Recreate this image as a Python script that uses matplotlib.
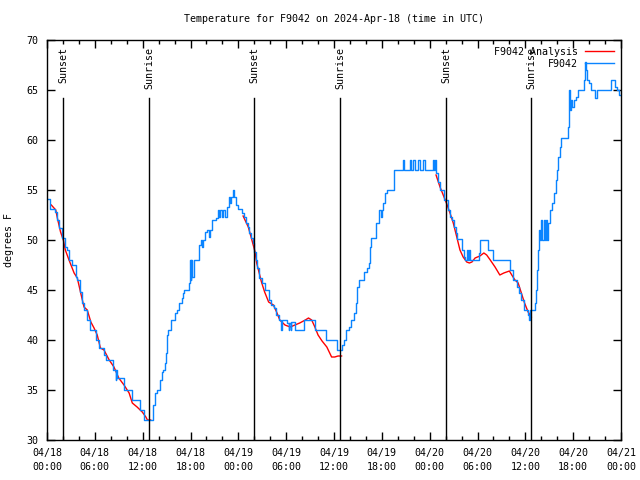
import datetime as dt
import numpy as np
import matplotlib
matplotlib.use('Agg')
import matplotlib.pyplot as plt
import matplotlib.dates as mdates

plt.rcParams['font.family'] = ['DejaVu Sans Mono']
plt.rcParams['font.size'] = 7.2

start = dt.datetime(2024, 4, 18)

# station obs, hours since 04/18 00:00 UTC (value holds until next entry)
obs_hours = [0.0, 0.4, 0.95, 1.2, 1.5, 1.85, 2.2, 2.55, 2.75, 3.15, 3.6, 3.8, 4.15, 4.45,
             4.65, 5.0, 5.35, 6.2, 6.5, 7.2, 7.35, 8.3, 8.6, 8.7, 8.8, 9.65, 10.6, 11.7,
             12.2, 13.25, 13.55, 13.75, 14.15, 14.4, 14.6, 14.8, 14.95, 15.0, 15.2, 15.6,
             16.05, 16.3, 16.6, 16.9, 17.1, 17.2, 17.75, 17.9, 18.0, 18.1, 18.2, 18.4,
             19.05, 19.3, 19.5, 19.6, 19.8, 20.1, 20.3, 20.45, 20.65, 21.2, 21.45, 21.6,
             21.75, 21.9, 22.05, 22.3, 22.55, 22.8, 23.0, 23.1, 23.3, 23.5, 23.65, 23.9,
             24.5, 24.75, 24.9, 25.15, 25.35, 25.6, 25.8, 26.0, 26.2, 26.35, 26.6, 26.95,
             27.3, 27.9, 28.15, 28.5, 28.7, 29.05, 29.4, 29.5, 30.1, 30.3, 30.35, 30.55,
             30.6, 31.05, 32.25, 33.65, 34.95, 36.35, 36.95, 37.25, 37.55, 37.9, 38.15,
             38.45, 38.75, 38.9, 39.1, 39.8, 40.1, 40.35, 40.55, 40.7, 41.3, 41.6, 41.9,
             42.0, 42.15, 42.45, 42.65, 43.55, 44.6, 44.8, 45.5, 45.7, 45.9, 46.1, 46.55,
             46.75, 47.2, 47.45, 48.4, 48.55, 48.7, 48.85, 49.1, 49.25, 49.8, 50.25, 50.6,
             50.85, 51.0, 51.25, 51.45, 52.05, 52.25, 52.45, 52.65, 52.75, 52.9, 53.0,
             54.15, 54.3, 55.35, 55.95, 58.1, 58.45, 59.0, 59.2, 59.5, 59.85, 60.3, 60.45,
             60.6, 61.15, 61.35, 61.45, 61.55, 61.7, 61.85, 62.0, 62.15, 62.3, 62.45, 62.6,
             62.75, 62.9, 63.15, 63.35, 63.55, 63.8, 63.95, 64.15, 64.3, 64.45, 65.4, 65.5,
             65.6, 65.7, 65.85, 66.05, 66.35, 66.65, 67.3, 67.45, 67.55, 67.75, 68.0, 68.25,
             68.75, 68.95, 70.8, 71.3, 71.55, 71.75, 72.0]
obs_temps = [54.1, 53.1, 52.8, 52.0, 51.2, 50.2, 49.3, 49.0, 48.0, 47.5, 46.3, 46.0, 44.8, 43.7,
             43.0, 42.0, 41.0, 40.0, 39.2, 38.5, 38.0, 37.0, 36.0, 37.0, 36.2, 35.0, 34.0, 33.0,
             32.0, 33.5, 34.7, 35.0, 36.0, 36.8, 37.0, 37.7, 38.7, 40.5, 41.0, 42.0,
             42.7, 43.0, 43.7, 44.2, 44.7, 45.0, 45.7, 48.0, 46.0, 48.0, 46.3, 48.0,
             49.5, 50.0, 49.3, 50.0, 50.8, 51.0, 50.3, 51.0, 52.0, 52.2, 53.0, 52.3,
             53.0, 52.3, 53.0, 52.3, 53.3, 54.3, 53.7, 54.3, 55.0, 54.3, 53.5, 53.1,
             52.7, 52.3, 51.7, 51.3, 50.7, 50.2, 49.7, 48.8, 48.0, 47.2, 46.2, 45.7,
             45.0, 44.0, 43.5, 43.2, 42.5, 42.0, 41.0, 42.0, 41.7, 41.0, 41.7, 41.0,
             41.8, 41.0, 42.0, 41.0, 40.0, 39.0, 39.5, 40.0, 41.0, 41.3, 42.0,
             42.7, 43.7, 45.3, 46.0, 46.8, 47.2, 47.7, 49.3, 50.2, 51.7, 53.0, 52.3,
             53.0, 53.7, 54.7, 55.0, 57.0, 58.0, 57.0, 58.0, 57.0, 58.0, 57.0, 58.0,
             57.0, 58.0, 57.0, 58.0, 57.0, 58.0, 56.7, 55.8, 55.0, 54.0, 53.0, 52.3,
             52.0, 51.3, 50.7, 50.1, 49.0, 48.3, 48.0, 49.0, 48.0, 49.0, 48.0,
             48.7, 50.0, 49.0, 48.0, 47.0, 46.0, 45.3, 44.7, 44.0, 43.0, 42.5, 42.0,
             43.0, 43.7, 45.0, 47.0, 49.0, 51.0, 50.0, 52.0, 50.0, 52.0, 50.0, 52.0,
             50.0, 51.7, 53.0, 53.7, 54.7, 56.0, 57.0, 58.3, 59.3, 60.2, 61.3, 65.0,
             63.0, 64.0, 63.3, 64.0, 64.3, 65.0, 66.0, 67.8, 67.0, 66.0, 65.7, 65.0,
             64.2, 65.0, 66.0, 65.3, 65.0, 64.5, 64.5]

# analysis, night-time only (nan breaks the segments)
ana_hours = [0.54, 1.1, 1.3, 1.7, 2.05, 2.3, 2.76, 3.4, 3.8, 4.2, 4.64, 5.05, 5.5, 5.9, 6.3,
             6.7, 7.15, 7.8, 8.4, 9.0, 9.66, 10.3, 10.7, 11.3, 11.95, 12.4, 12.6, 13.0, np.nan,
             24.6, 25.25, 25.7, 26.1, 26.3, 26.9, 27.3, 27.8, 28.4, 28.8, 29.2, 29.85, 30.5,
             31.1, 31.7, 32.4, 32.8, 33.2, 33.6, 34.0, 34.5, 35.1, 35.7, 36.1, 36.5, 36.95,
             np.nan,
             48.8, 49.3, 49.7, 50.1, 50.55, 50.96, 51.4, 51.8, 52.2, 52.65, 52.98, 53.3, 53.7,
             54.3, 54.8, 55.15, 55.6, 56.2, 56.8, 57.3, 58.0, 58.3, 58.7, 59.1, 59.5, 59.9,
             60.35, 60.75]
ana_temps = [53.5, 53.0, 52.2, 50.8, 50.0, 49.0, 48.0, 46.7, 46.2, 44.8, 43.3, 43.0, 41.8, 41.2, 40.5,
             39.2, 39.0, 38.0, 37.3, 36.2, 35.5, 34.7, 33.7, 33.3, 32.8, 32.3, 32.0, 32.0, np.nan,
             52.4, 51.3, 50.0, 48.8, 47.7, 45.8, 44.8, 43.8, 43.5, 42.8, 42.0, 41.5, 41.3,
             41.5, 41.7, 42.0, 42.2, 42.0, 41.3, 40.5, 39.9, 39.3, 38.3, 38.3, 38.4, 38.4,
             np.nan,
             56.5, 55.3, 54.5, 53.7, 52.7, 51.7, 50.3, 49.0, 48.3, 47.8, 47.7, 47.8, 48.2,
             48.4, 48.7, 48.5, 48.0, 47.3, 46.5, 46.7, 46.9, 46.5, 46.0, 45.7, 44.7, 43.7,
             42.8, 42.3]

sun_labels = ['Sunset', 'Sunrise', 'Sunset', 'Sunrise', 'Sunset', 'Sunrise']
sun_times = ['2024-04-18 02:00', '2024-04-18 12:47', '2024-04-19 01:58',
             '2024-04-19 12:45', '2024-04-20 02:03', '2024-04-20 12:43']

obs_x = [start + dt.timedelta(hours=h) for h in obs_hours]
ana_x = np.array([mdates.date2num(start + dt.timedelta(hours=h)) if not np.isnan(h) else np.nan
                  for h in ana_hours])

fig = plt.figure(figsize=(6.4, 4.8), dpi=100)
ax = fig.add_axes([47 / 640, 40 / 480, 574 / 640, 400 / 480])

ax.plot(ana_x, ana_temps, color='#ff0000', lw=1.0, label='F9042 Analysis')
ax.plot(obs_x, obs_temps, color='#0a84ff', lw=1.0, drawstyle='steps-post', label='F9042')

for lab, t in zip(sun_labels, sun_times):
    tx = mdates.date2num(dt.datetime.strptime(t, '%Y-%m-%d %H:%M'))
    ax.plot([tx, tx], [30, 64.2], color='black', lw=1.0)
    ax.text(tx, 69.3, lab, rotation=90, ha='center', va='top')

ax.set_xlim(start, start + dt.timedelta(days=3))
ax.set_ylim(30, 70)
ax.set_yticks(np.arange(30, 71, 5))
ax.xaxis.set_major_locator(mdates.HourLocator(byhour=[0, 6, 12, 18]))
ax.xaxis.set_minor_locator(mdates.HourLocator(interval=2))
ax.xaxis.set_major_formatter(mdates.DateFormatter('%m/%d\n%H:%M'))
ax.tick_params(which='both', direction='in', top=True, right=True, width=1.0)
ax.tick_params(which='major', length=6, pad=6)
ax.tick_params(which='minor', length=3)
for lbl in ax.get_xticklabels():
    lbl.set_linespacing(1.5)
for s in ax.spines.values():
    s.set_linewidth(1.0)

ax.set_ylabel('degrees F', labelpad=9)
ax.set_title('Temperature for F9042 on 2024-Apr-18 (time in UTC)', fontsize=7.2, pad=13)

ax.legend(loc='upper right', frameon=False, markerfirst=False, handlelength=2.9,
          borderaxespad=0.3, labelspacing=0.2, handletextpad=0.7)

fig.savefig('out.png', dpi=100)
